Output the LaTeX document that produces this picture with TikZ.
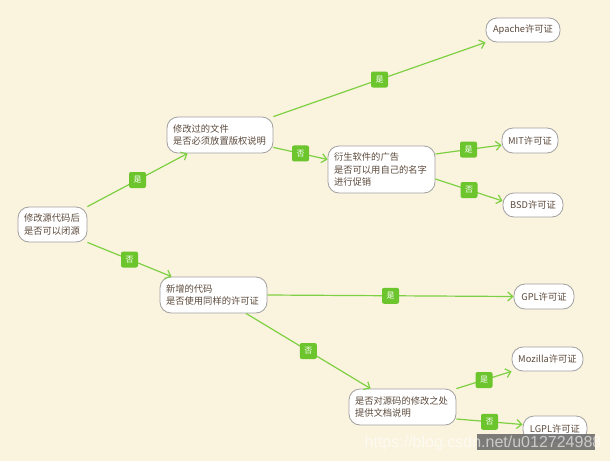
\documentclass[tikz,border=0pt]{standalone}
\usepackage{fontspec}
\setmainfont{Noto Sans CJK SC}
\newfontfamily\wmfont{Liberation Sans}
\usetikzlibrary{arrows.meta}
\definecolor{bgc}{RGB}{250,243,222}
\definecolor{edgec}{RGB}{126,208,67}
\definecolor{labc}{RGB}{108,197,45}
\definecolor{bordc}{RGB}{160,160,160}
\definecolor{txtc}{RGB}{92,74,60}
\tikzset{
  qbox/.style={draw=bordc, fill=white, line width=0.8pt, rounded corners=11pt,
    align=left, inner xsep=6pt, inner ysep=2pt, text=txtc,
    font=\fontsize{9.3}{12.5}\selectfont},
  leaf/.style={draw=bordc, fill=white, line width=0.8pt, rounded corners=11pt,
    align=center, inner sep=1pt, text=txtc,
    font=\fontsize{9.3}{12}\selectfont},
  conn/.style={draw=edgec, line width=1.2pt, -{Straight Barb[length=5pt,width=9pt,line width=1.2pt]}},
  yn/.style={fill=labc, text=white, rounded corners=2pt, minimum width=17pt,
    minimum height=16pt, inner sep=0pt, font=\fontsize{8}{8}\selectfont}
}
\begin{document}
\begin{tikzpicture}[x=1pt,y=-1pt]
\fill[bgc] (0,0) rectangle (610,461);
\useasboundingbox (0,0) rectangle (610,461);
% question nodes
\node[qbox, text width=57pt, minimum height=35pt] (A) at (52.5,224.5) {修改源代码后\\是否可以闭源};
\node[qbox, text width=94pt, minimum height=36pt] (B) at (220,135) {修改过的文件\\是否必须放置版权说明};
\node[qbox, text width=95pt, minimum height=47pt] (C) at (381.5,169.5) {衍生软件的广告\\是否可以用自己的名字\\进行促销};
\node[qbox, text width=95pt, minimum height=36pt] (D) at (213.5,295) {新增的代码\\是否使用同样的许可证};
\node[qbox, text width=95pt, minimum height=36pt] (E) at (402.5,407) {是否对源码的修改之处\\提供文档说明};
% leaves
\node[leaf, minimum width=74pt, minimum height=24pt] (apache) at (523,30) {Apache许可证};
\node[leaf, minimum width=56pt, minimum height=25pt] (mit) at (530,140.5) {MIT许可证};
\node[leaf, minimum width=60pt, minimum height=24pt] (bsd) at (533,205) {BSD许可证};
\node[leaf, minimum width=60pt, minimum height=25pt] (gpl) at (544,296.5) {GPL许可证};
\node[leaf, minimum width=71pt, minimum height=24pt] (moz) at (547.5,359) {Mozilla许可证};
\node[leaf, minimum width=64pt, minimum height=25pt] (lgpl) at (555,428.5) {LGPL许可证};
% connectors
\draw[conn] (A.north east) -- node[yn]{是} ([xshift=21pt]B.south west);
\draw[conn] (A.south east) -- node[yn]{否} ([xshift=12pt]D.north west);
\draw[conn] (B.north east) -- node[yn]{是} (apache.south west);
\draw[conn] ([yshift=6pt]B.south east) -- node[yn]{否} ([yshift=10pt]C.west);
\draw[conn] ([yshift=15.5pt]C.east) -- node[yn]{是} ([yshift=-4.5pt]mit.west);
\draw[conn] ([yshift=-9.5pt]C.east) -- node[yn]{否} ([yshift=4pt]bsd.west);
\draw[conn] (D.east) -- node[yn]{是} (gpl.west);
\draw[conn] ([xshift=32.5pt]D.south) -- node[yn]{否} ([xshift=22pt]E.north west);
\draw[conn] (E.north east) -- node[yn]{是} (moz.south west);
\draw[conn] ([yshift=-12pt]E.east) -- node[yn]{否} ([yshift=4pt]lgpl.west);
% watermark
\fill[black!60, opacity=0.85] (477,434) rectangle (595,450);
\node[text=white, opacity=0.6, font=\wmfont\fontsize{16}{16}\selectfont, inner sep=0pt] (wm) at (483,443) {https://blog.csdn.net/u012724988};
\end{tikzpicture}
\end{document}
